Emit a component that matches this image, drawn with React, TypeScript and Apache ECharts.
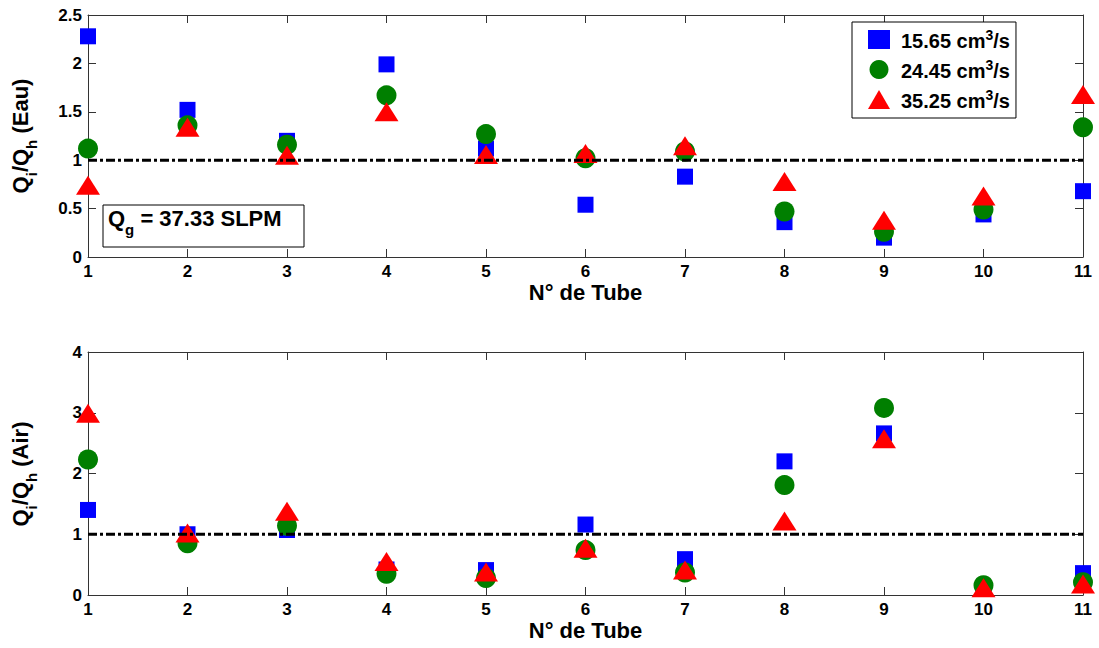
import React, { useEffect, useRef } from 'react';
import * as echarts from 'echarts';

const tubes = [1, 2, 3, 4, 5, 6, 7, 8, 9, 10, 11];
const seriesNames = ['15.65', '24.45', '35.25'];

// Q_i/Q_h (Eau)
const eau1565 = [2.28, 1.52, 1.20, 1.99, 1.12, 0.54, 0.83, 0.36, 0.20, 0.44, 0.68];
const eau2445 = [1.12, 1.36, 1.16, 1.67, 1.27, 1.02, 1.09, 0.47, 0.26, 0.49, 1.34];
const eau3525 = [0.74, 1.34, 1.05, 1.50, 1.06, 1.07, 1.15, 0.78, 0.38, 0.63, 1.68];

// Q_i/Q_h (Air)
const air1565 = [1.40, 1.00, 1.07, 0.42, 0.41, 1.16, 0.59, 2.20, 2.66, 0.10, 0.36];
const air2445 = [2.23, 0.85, 1.14, 0.35, 0.28, 0.74, 0.37, 1.81, 3.08, 0.16, 0.21];
const air3525 = [2.99, 1.02, 1.38, 0.55, 0.38, 0.77, 0.41, 1.22, 2.57, 0.12, 0.18];

const refLevel = 1;
const eauAxis = { min: 0, max: 2.5, interval: 0.5 };
const airAxis = { min: 0, max: 4, interval: 1 };
const xAxisRange = { min: 1, max: 11, interval: 1 };

const FONT = 'Liberation Sans, Arial, Helvetica, sans-serif';
const COLORS = ['#0000ff', '#007f00', '#ff0000'];
const SYMBOLS = ['rect', 'circle', 'triangle'];
const SIZES: any[] = [16, 20, [24, 19]];

export default function App() {
  const ref = useRef<HTMLDivElement>(null);

  useEffect(() => {
    document.body.style.margin = '0';
    if (!ref.current) return;
    const chart = echarts.init(ref.current, undefined, { renderer: 'svg' });

    const axisLineStyle = { color: '#333', width: 1 };
    const labelStyle = { fontSize: 17, fontWeight: 'bold', color: '#000', fontFamily: FONT };

    const xAxes: any[] = [];
    const yAxes: any[] = [];
    [0, 1].forEach((g) => {
      xAxes.push({
        type: 'value', gridIndex: g, ...xAxisRange, position: 'bottom',
        axisLine: { show: true, onZero: false, lineStyle: axisLineStyle },
        axisTick: { show: true, inside: true, length: 8, lineStyle: axisLineStyle },
        axisLabel: { ...labelStyle, margin: 6 },
        splitLine: { show: false },
        name: 'N° de Tube', nameLocation: 'middle', nameGap: 24,
        nameTextStyle: { fontSize: 22, fontWeight: 'bold', color: '#000', fontFamily: FONT },
      });
      xAxes.push({
        type: 'value', gridIndex: g, ...xAxisRange, position: 'top',
        axisLine: { show: true, onZero: false, lineStyle: axisLineStyle },
        axisTick: { show: true, inside: true, length: 8, lineStyle: axisLineStyle },
        axisLabel: { show: false },
        splitLine: { show: false },
      });
      const yr = g === 0 ? eauAxis : airAxis;
      yAxes.push({
        type: 'value', gridIndex: g, ...yr, position: 'left',
        axisLine: { show: true, onZero: false, lineStyle: axisLineStyle },
        axisTick: { show: true, inside: true, length: 8, lineStyle: axisLineStyle },
        axisLabel: { ...labelStyle, margin: 6 },
        splitLine: { show: false },
      });
      yAxes.push({
        type: 'value', gridIndex: g, ...yr, position: 'right',
        axisLine: { show: true, onZero: false, lineStyle: axisLineStyle },
        axisTick: { show: true, inside: true, length: 8, lineStyle: axisLineStyle },
        axisLabel: { show: false },
        splitLine: { show: false },
      });
    });

    const plots = [
      [eau1565, eau2445, eau3525],
      [air1565, air2445, air3525],
    ];
    const series: any[] = [];
    plots.forEach((vals, g) => {
      vals.forEach((arr, k) => {
        series.push({
          type: 'scatter',
          name: seriesNames[k],
          xAxisIndex: 2 * g, yAxisIndex: 2 * g,
          data: tubes.map((t, i) => [t, arr[i]]),
          symbol: SYMBOLS[k], symbolSize: SIZES[k],
          itemStyle: { color: COLORS[k], opacity: 1 },
          z: 2 + k,
          silent: true,
        });
      });
      series.push({
        type: 'line',
        xAxisIndex: 2 * g, yAxisIndex: 2 * g,
        data: [[xAxisRange.min, refLevel], [xAxisRange.max, refLevel]],
        symbol: 'none',
        lineStyle: { color: '#000', width: 3, type: [9, 3, 3, 3] },
        z: 6,
        silent: true,
      });
    });

    const mainRich = (size: number) => ({
      q: { fontSize: size, fontWeight: 'bold', color: '#000', fontFamily: FONT, verticalAlign: 'bottom', padding: [0, 0, 7, 0] },
      s: { fontSize: 15, fontWeight: 'bold', color: '#000', fontFamily: FONT, verticalAlign: 'bottom' },
    });

    const option: any = {
      animation: false,
      backgroundColor: '#fff',
      grid: [
        { left: 88, right: 16, top: 15, height: 242 },
        { left: 88, right: 16, top: 352, height: 243 },
      ],
      xAxis: xAxes,
      yAxis: yAxes,
      legend: {
        data: seriesNames,
        orient: 'vertical',
        left: 852, top: 22,
        padding: [6, 6, 7, 16],
        itemGap: 7,
        itemWidth: 22, itemHeight: 19,
        borderColor: '#000', borderWidth: 1,
        backgroundColor: '#fff',
        selectedMode: false,
        formatter: (name: string) => `{sp| }{a|${name} cm}{b|3}{a|/s}`,
        textStyle: {
          rich: {
            sp: { width: 6, fontSize: 10 },
            a: { fontSize: 20, fontWeight: 'bold', color: '#000', fontFamily: FONT, verticalAlign: 'bottom', lineHeight: 22 },
            b: { fontSize: 14, fontWeight: 'bold', color: '#000', fontFamily: FONT, verticalAlign: 'bottom', padding: [0, 0, 9, 0] },
          },
        },
      },
      graphic: [
        {
          type: 'text', x: 24, y: 136, rotation: Math.PI / 2,
          style: {
            text: '{q|Q}{s|i}{q|/Q}{s|h}{q| (Eau)}',
            rich: mainRich(22), align: 'center', verticalAlign: 'middle',
          },
        },
        {
          type: 'text', x: 24, y: 474, rotation: Math.PI / 2,
          style: {
            text: '{q|Q}{s|i}{q|/Q}{s|h}{q| (Air)}',
            rich: mainRich(22), align: 'center', verticalAlign: 'middle',
          },
        },
        {
          type: 'rect', x: 103, y: 205, shape: { x: 0, y: 0, width: 201, height: 42 },
          style: { fill: '#fff', stroke: '#000', lineWidth: 1 }, z: 10,
        },
        {
          type: 'text', x: 108, y: 222, z: 11,
          style: {
            text: '{q|Q}{s|g}{q| = 37.33 SLPM}',
            rich: mainRich(22), align: 'left', verticalAlign: 'middle',
          },
        },
      ],
      series,
    };

    chart.setOption(option);
    return () => chart.dispose();
  }, []);

  return <div ref={ref} style={{ width: 1099, height: 648 }} />;
}
